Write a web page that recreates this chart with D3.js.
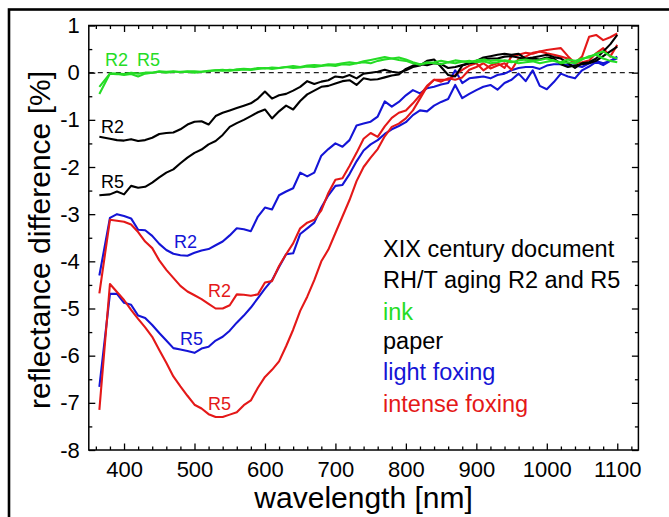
<!DOCTYPE html>
<html>
<head>
<meta charset="utf-8">
<script src="https://cdn.jsdelivr.net/npm/d3@7"></script>
<style>
    body { margin: 0; background: #fff; }
    svg { display: block; font-family: "Liberation Sans", Arial, sans-serif; }
</style>
</head>
<body>
<svg id="chart" width="669" height="517"></svg>
<script>
// wavelength sampling (nm)
var wavelength = [365, 380, 390, 400, 410, 420, 430, 440, 450, 460,
    470, 480, 490, 500, 510, 520, 530, 540, 550, 560,
    570, 580, 590, 600, 610, 620, 630, 640, 650, 660,
    670, 680, 690, 700, 710, 720, 730, 740, 750, 760,
    770, 780, 790, 800, 810, 820, 830, 840, 850, 860,
    870, 880, 890, 900, 910, 920, 930, 940, 950, 960,
    970, 980, 990, 1000, 1010, 1020, 1030, 1040, 1050, 1060,
    1070, 1080, 1090, 1100];

// reflectance difference [%] per area and aging step
var inkR2 = [-0.45, -0.02, -0.02, -0.03, 0.0, -0.02, 0.0, 0.0, 0.02, 0.0,
    0.02, 0.02, 0.03, 0.03, 0.02, 0.04, 0.05, 0.04, 0.06, 0.05,
    0.07, 0.06, 0.08, 0.1, 0.08, 0.1, 0.12, 0.1, 0.11, 0.13,
    0.12, 0.14, 0.16, 0.14, 0.18, 0.17, 0.2, 0.22, 0.2, 0.25,
    0.28, 0.3, 0.32, 0.28, 0.22, 0.18, 0.2, 0.22, 0.25, 0.22,
    0.26, 0.24, 0.22, 0.26, 0.28, 0.25, 0.27, 0.25, 0.22, 0.26,
    0.28, 0.25, 0.27, 0.3, 0.25, 0.22, 0.28, 0.25, 0.3, 0.32,
    0.4, 0.45, 0.35, 0.3];
var inkR5 = [-0.3, -0.02, -0.03, -0.05, -0.03, -0.08, -0.02, 0.0, 0.03, 0.02,
    0.03, 0.01, 0.02, 0.0, 0.02, 0.03, 0.05, 0.06, 0.04, 0.07,
    0.08, 0.07, 0.1, 0.09, 0.11, 0.1, 0.12, 0.14, 0.12, 0.15,
    0.16, 0.15, 0.18, 0.17, 0.2, 0.22, 0.2, 0.24, 0.27, 0.3,
    0.33, 0.3, 0.27, 0.25, 0.2, 0.17, 0.22, 0.2, 0.18, 0.22,
    0.2, 0.23, 0.25, 0.22, 0.24, 0.2, 0.22, 0.26, 0.24, 0.2,
    0.22, 0.24, 0.2, 0.23, 0.26, 0.2, 0.22, 0.2, 0.28, 0.35,
    0.38, 0.3, 0.25, 0.22];
var paperR2 = [-1.36, -1.40, -1.43, -1.44, -1.41, -1.45, -1.43, -1.38, -1.30, -1.28,
    -1.27, -1.20, -1.10, -1.04, -1.03, -1.10, -0.92, -0.85, -0.80, -0.75,
    -0.70, -0.65, -0.55, -0.40, -0.55, -0.48, -0.45, -0.38, -0.30, -0.18,
    -0.24, -0.19, -0.16, -0.08, -0.10, -0.05, -0.12, -0.02, 0.0, 0.02,
    0.06, 0.02, 0.0, 0.05, 0.12, 0.15, 0.25, 0.28, 0.12, -0.05,
    -0.08, 0.15, 0.2, 0.25, 0.32, 0.35, 0.38, 0.4, 0.38, 0.4,
    0.3, 0.32, 0.35, 0.38, 0.33, 0.3, 0.2, 0.1, 0.2, 0.22,
    0.3, 0.45, 0.6, 0.8];
var paperR5 = [-2.60, -2.58, -2.52, -2.58, -2.40, -2.44, -2.42, -2.33, -2.22, -2.12,
    -2.05, -1.92, -1.80, -1.70, -1.63, -1.52, -1.45, -1.32, -1.15, -1.07,
    -1.00, -0.92, -0.84, -0.78, -0.97, -0.82, -0.70, -0.78, -0.60, -0.46,
    -0.38, -0.30, -0.28, -0.23, -0.18, -0.16, -0.26, -0.12, -0.15, -0.14,
    -0.10, -0.06, -0.04, 0.08, 0.15, 0.18, 0.16, 0.2, 0.18, 0.1,
    0.12, 0.16, 0.2, 0.22, 0.28, 0.3, 0.3, 0.34, 0.35, 0.32,
    0.28, 0.3, 0.28, 0.32, 0.3, 0.18, 0.12, 0.15, 0.18, 0.2,
    0.25, 0.35, 0.45, 0.55];
var lightR2 = [-4.30, -3.08, -3.00, -3.04, -3.09, -3.33, -3.34, -3.46, -3.63, -3.76,
    -3.84, -3.87, -3.88, -3.82, -3.77, -3.74, -3.66, -3.58, -3.45, -3.30,
    -3.32, -3.36, -3.05, -2.86, -2.90, -2.60, -2.52, -2.45, -2.12, -2.20,
    -2.12, -1.76, -1.62, -1.50, -1.57, -1.43, -1.12, -1.08, -1.04, -0.93,
    -0.61, -0.72, -0.62, -0.48, -0.37, -0.44, -0.33, -0.30, -0.25, -0.22,
    0.05, -0.22, -0.12, -0.1, -0.08, -0.12, -0.05, -0.02, 0.05, 0.1,
    0.12, 0.12, 0.08, 0.15, 0.18, 0.18, 0.16, 0.15, 0.12, 0.2,
    0.25, 0.2, 0.25, 0.3];
var lightR5 = [-6.66, -4.69, -4.69, -4.88, -4.92, -5.15, -5.20, -5.35, -5.52, -5.68,
    -5.84, -5.87, -5.90, -5.94, -5.85, -5.81, -5.68, -5.60, -5.47, -5.30,
    -5.15, -4.98, -4.78, -4.58, -4.40, -4.12, -3.85, -3.83, -3.42, -3.30,
    -3.18, -2.86, -2.60, -2.40, -2.38, -2.15, -1.88, -1.65, -1.52, -1.43,
    -1.30, -1.20, -1.13, -1.05, -0.90, -0.80, -0.82, -0.70, -0.62, -0.56,
    -0.26, -0.54, -0.45, -0.37, -0.30, -0.26, -0.36, -0.22, -0.15, -0.02,
    -0.18, 0.05, -0.28, -0.35, -0.20, -0.02, -0.08, -0.12, 0.05, 0.13,
    0.23, 0.16, 0.25, 0.34];
var intenseR2 = [-4.68, -3.12, -3.14, -3.16, -3.22, -3.38, -3.58, -3.72, -3.98, -4.18,
    -4.35, -4.52, -4.64, -4.72, -4.80, -4.90, -5.00, -5.00, -4.93, -4.70,
    -4.71, -4.73, -4.70, -4.45, -4.42, -4.10, -3.85, -3.62, -3.30, -3.18,
    -3.12, -2.92, -2.55, -2.27, -2.24, -1.98, -1.70, -1.40, -1.28, -1.36,
    -1.14, -0.96, -0.85, -0.80, -0.65, -0.48, -0.28, -0.15, -0.15, -0.15,
    -0.05, 0.06, 0.15, 0.2, 0.05, 0.15, 0.2, 0.1, 0.35, 0.38,
    0.42, 0.4, 0.45, 0.48, 0.5, 0.52, 0.35, 0.2, 0.34, 0.76,
    0.8, 0.69, 0.75, 0.83];
var intenseR5 = [-7.15, -4.48, -4.65, -4.82, -5.03, -5.22, -5.40, -5.60, -5.88, -6.15,
    -6.44, -6.65, -6.85, -7.04, -7.12, -7.24, -7.30, -7.30, -7.25, -7.20,
    -7.05, -6.95, -6.68, -6.45, -6.30, -6.12, -5.80, -5.45, -5.05, -4.75,
    -4.40, -4.00, -3.75, -3.40, -3.05, -2.70, -2.30, -2.00, -1.80, -1.62,
    -1.35, -1.15, -1.08, -0.97, -0.80, -0.55, -0.30, -0.15, -0.19, -0.12,
    -0.15, -0.10, 0.06, 0.12, 0.2, 0.09, 0.15, 0.2, 0.06, 0.3,
    0.34, 0.42, 0.45, 0.41, 0.38, 0.34, 0.3, 0.2, 0.22, 0.26,
    0.41, 0.52, 0.34, 0.59];

var xTicks = [400, 500, 600, 700, 800, 900, 1000, 1100];
var yTicks = [-8, -7, -6, -5, -4, -3, -2, -1, 0, 1];
var legendLines = ["XIX century document", "RH/T aging R2 and R5", "ink", "paper", "light foxing", "intense foxing"];

var GREEN = '#25dc25';
var BLACK = '#000000';
var BLUE = '#1414d6';
var RED = '#e41818';

var svg = d3.select("#chart");

var plotLeft = 88.8, plotRight = 638.4, plotTop = 25.5, plotBottom = 450;

var x = d3.scaleLinear().domain([350, 1130]).range([plotLeft, plotRight]);
var y = d3.scaleLinear().domain([-8, 1]).range([plotBottom, plotTop]);

// outer frame of the figure (only top and left edges are visible)
svg.append("rect")
    .attr("x", 9).attr("y", 9.5)
    .attr("width", 700).attr("height", 600)
    .attr("fill", "none")
    .attr("stroke", "#000")
    .attr("stroke-width", 2.6);

// zero reference line
svg.append("line")
    .attr("x1", plotLeft).attr("x2", plotRight)
    .attr("y1", y(0)).attr("y2", y(0))
    .attr("stroke", "#222")
    .attr("stroke-width", 1.1)
    .attr("stroke-dasharray", "5,4");

// curves
var series = [
    [inkR2, GREEN], [inkR5, GREEN],
    [paperR2, BLACK], [paperR5, BLACK],
    [lightR2, BLUE], [lightR5, BLUE],
    [intenseR2, RED], [intenseR5, RED]
];

var line = d3.line()
    .x(function (d) { return x(d[0]); })
    .y(function (d) { return y(d[1]); });

// draw order: ink on top as in the original
var order = [4, 5, 6, 7, 2, 3, 0, 1];
order.forEach(function (i) {
    var vals = series[i][0];
    var pts = wavelength.map(function (w, k) { return [w, vals[k]]; });
    svg.append("path")
        .attr("d", line(pts))
        .attr("fill", "none")
        .attr("stroke", series[i][1])
        .attr("stroke-width", 2.1)
        .attr("stroke-linejoin", "round");
});

// axes, all ticks pointing inside
var minorX = [];
for (var t = 360; t <= 1120; t += 20) { if (t % 100 != 0) minorX.push(t); }
var minorY = [];
for (var v = -7.5; v <= 0.5; v += 1) { minorY.push(v); }

// plain hyphen for negatives, no thousands comma
var fmt = function (d) { return String(d); };

function styleAxis(g) {
    g.select(".domain").remove();
    g.selectAll(".tick line").attr("stroke", "#000").attr("stroke-width", 1.3);
}
function styleLabels(g) {
    g.selectAll("text").attr("fill", "#000").style("font-size", "22px")
        .style("font-family", '"Liberation Sans", Arial, sans-serif');
}

svg.append("g")
    .attr("transform", "translate(0," + plotBottom + ")")
    .call(d3.axisBottom(x).tickValues(xTicks).tickSize(-6.5).tickPadding(0).tickFormat(fmt))
    .call(styleAxis)
    .call(styleLabels)
    .call(function (g) { g.selectAll("text").attr("dy", null).attr("y", 27); });
svg.append("g")
    .attr("transform", "translate(0," + plotBottom + ")")
    .call(d3.axisBottom(x).tickValues(minorX).tickSize(-3.5).tickFormat(""))
    .call(styleAxis);
svg.append("g")
    .attr("transform", "translate(0," + plotTop + ")")
    .call(d3.axisTop(x).tickValues(xTicks).tickSize(-6.5).tickFormat(""))
    .call(styleAxis);
svg.append("g")
    .attr("transform", "translate(0," + plotTop + ")")
    .call(d3.axisTop(x).tickValues(minorX).tickSize(-3.5).tickFormat(""))
    .call(styleAxis);

svg.append("g")
    .attr("transform", "translate(" + plotLeft + ",0)")
    .call(d3.axisLeft(y).tickValues(yTicks).tickSize(-6.5).tickPadding(9).tickFormat(fmt))
    .call(styleAxis)
    .call(styleLabels);
svg.append("g")
    .attr("transform", "translate(" + plotLeft + ",0)")
    .call(d3.axisLeft(y).tickValues(minorY).tickSize(-3.5).tickFormat(""))
    .call(styleAxis);
svg.append("g")
    .attr("transform", "translate(" + plotRight + ",0)")
    .call(d3.axisRight(y).tickValues(yTicks).tickSize(-6.5).tickFormat(""))
    .call(styleAxis);
svg.append("g")
    .attr("transform", "translate(" + plotRight + ",0)")
    .call(d3.axisRight(y).tickValues(minorY).tickSize(-3.5).tickFormat(""))
    .call(styleAxis);

// plot frame
svg.append("rect")
    .attr("x", plotLeft).attr("y", plotTop)
    .attr("width", plotRight - plotLeft).attr("height", plotBottom - plotTop)
    .attr("fill", "none")
    .attr("stroke", "#000")
    .attr("stroke-width", 1.5);

// axis titles
svg.append("text")
    .attr("x", (plotLeft + plotRight) / 2)
    .attr("y", 508)
    .attr("text-anchor", "middle")
    .style("font-size", "30px")
    .text("wavelength [nm]");

svg.append("text")
    .attr("transform", "translate(50,240) rotate(-90)")
    .attr("text-anchor", "middle")
    .style("font-size", "30px")
    .text("reflectance difference [%]");

// curve labels
var curveLabels = [
    ["R2", 105, 66, GREEN], ["R5", 137, 66, GREEN],
    ["R2", 101, 133, BLACK], ["R5", 101, 188, BLACK],
    ["R2", 174, 248, BLUE], ["R2", 208, 297, RED],
    ["R5", 180, 345, BLUE], ["R5", 208, 410, RED]
];
curveLabels.forEach(function (d) {
    svg.append("text")
        .attr("x", d[1]).attr("y", d[2])
        .attr("fill", d[3])
        .style("font-size", "18px")
        .text(d[0]);
});

// legend text block
var legendColors = [BLACK, BLACK, GREEN, BLACK, BLUE, RED];
var legendY = [257, 288, 320, 349, 380, 412];
legendLines.forEach(function (s, i) {
    svg.append("text")
        .attr("x", 383)
        .attr("y", legendY[i])
        .attr("fill", legendColors[i])
        .style("font-size", "23.5px")
        .text(s);
});
</script>
</body>
</html>
